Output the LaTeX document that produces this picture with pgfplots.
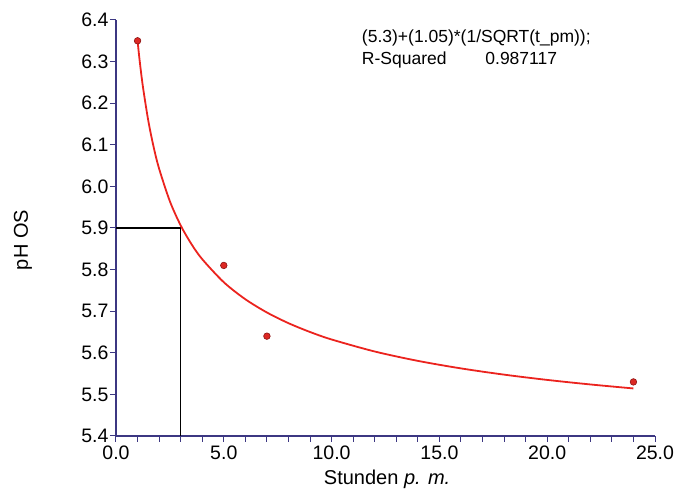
\documentclass[border=0pt]{standalone}
\usepackage{pgfplots}
\pgfplotsset{compat=1.18}
\usepackage{fontspec}
\setmainfont{Liberation Sans}
\definecolor{axblue}{RGB}{60,55,130}
\definecolor{fitred}{RGB}{235,35,30}
\definecolor{mkred}{RGB}{220,40,35}
\definecolor{mkedge}{RGB}{140,20,20}
\begin{document}
\begin{tikzpicture}[x=1pt,y=1pt]
\begin{axis}[
  name=ax,
  scale only axis,
  width=539pt, height=416pt,
  xmin=0, xmax=25, ymin=5.4, ymax=6.4,
  axis x line*=bottom, axis y line*=left,
  axis line style={axblue, line width=1.2pt, -},
  xtick={0,5,...,25}, minor xtick={1,2,...,24},
  ytick={5.4,5.5,...,6.41},
  tick style={axblue, line width=1pt},
  major tick length=6pt, minor tick length=6pt,
  tick align=outside,
  xticklabel style={font=\fontsize{19.5}{19.5}\selectfont, yshift=0pt},
  yticklabel style={font=\fontsize{19.5}{19.5}\selectfont, xshift=2pt},
  /pgf/number format/.cd, fixed, fixed zerofill, precision=1, assume math mode=true,
  /pgfplots/.cd,
  clip=false,
]
\addplot[black, line width=1.2pt] coordinates {(0,5.9) (3,5.9) (3,5.4)};
\addplot[fitred, line width=1.8pt, smooth] coordinates {
(1,6.35) (1.1,6.3011) (1.25,6.2391) (1.5,6.1573) (1.75,6.0937) (2,6.0425)
(2.5,5.9641) (3,5.9062) (3.5,5.8613) (4,5.825) (5,5.7696) (6,5.7287)
(7,5.6969) (8,5.6712) (9,5.65) (10,5.6320) (12,5.6031) (14,5.5806)
(16,5.5625) (18,5.5475) (20,5.5348) (22,5.5239) (24,5.5143)};
\addplot[only marks, mark=*, mark size=3.3pt, mark options={fill=mkred, draw=mkedge, line width=0.6pt}]
coordinates {(1,6.35) (5,5.81) (7,5.64) (24,5.53)};
\node[anchor=base west, inner sep=0pt, font=\fontsize{17.5}{17.5}\selectfont]
  at (rel axis cs:0.456,0.947) {(5.3)+(1.05)*(1/SQRT(t\_pm));};
\node[anchor=base west, inner sep=0pt, font=\fontsize{17.5}{17.5}\selectfont]
  at (rel axis cs:0.456,0.894) {R-Squared};
\node[anchor=base west, inner sep=0pt, font=\fontsize{17.5}{17.5}\selectfont]
  at (rel axis cs:0.685,0.894) {0.987117};
\node[rotate=90, inner sep=0pt, font=\fontsize{20}{20}\selectfont]
  at ([xshift=-93pt]rel axis cs:0,0.471) {pH OS};
\node[inner sep=0pt, font=\fontsize{20}{20}\selectfont]
  at ([yshift=-43pt]rel axis cs:0.503,0) {Stunden \textit{p. m.}};
\end{axis}
\pgfresetboundingbox
\useasboundingbox ([xshift=-116pt,yshift=-58pt]ax.south west) rectangle ([xshift=20pt,yshift=20pt]ax.north east);
\end{tikzpicture}
\end{document}
